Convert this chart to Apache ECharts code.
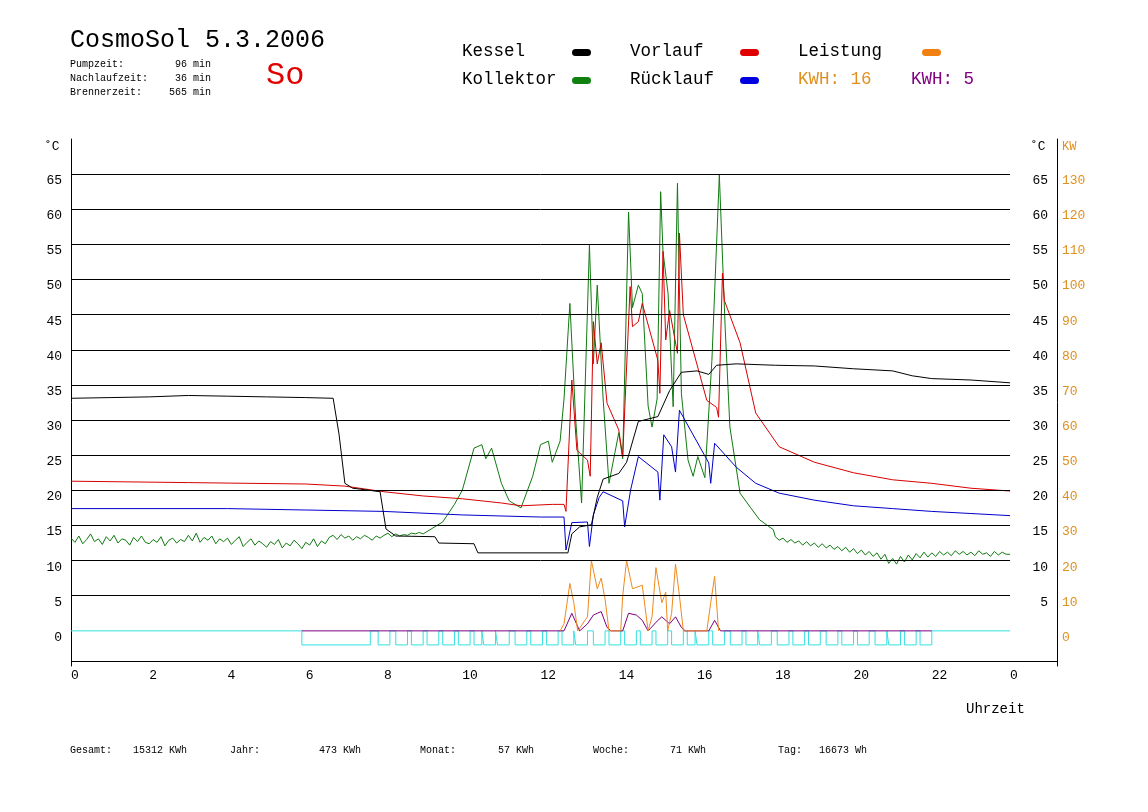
<!DOCTYPE html>
<html>
<head>
<meta charset="utf-8">
<script src="https://cdn.jsdelivr.net/npm/echarts@6/dist/echarts.min.js"></script>
<style>
  html, body { margin: 0; padding: 0; background: #fff; }
  #chart { width: 1148px; height: 812px; }
</style>
</head>
<body>
<div id="chart"></div>
<script>
// Stunden-Achse
const hourTicks = [0, 2, 4, 6, 8, 10, 12, 14, 16, 18, 20, 22, 24];
const gridLevels = [5, 10, 15, 20, 25, 30, 35, 40, 45, 50, 55, 60, 65];

// Kessel [h, °C]
const kessel = [[0,33.1],[1,33.2],[2,33.3],[3,33.5],[4,33.4],[5,33.3],[6,33.2],[6.7,33.1],[6.85,28],[7.0,21],[7.2,20.3],[7.5,20.1],[7.9,19.8],[8.05,14.5],[8.3,13.5],[9.3,13.4],[9.4,12.5],[10.3,12.4],[10.4,11.1],[12.7,11.1],[12.8,13.8],[13.0,14.8],[13.3,15.1],[13.45,19],[13.6,21.6],[14.0,22.4],[14.2,24],[14.5,29.8],[15.0,30.5],[15.3,34.2],[15.6,36.8],[16.0,37],[16.3,36.5],[16.5,37.8],[17,38],[18,37.8],[19,37.7],[20,37.3],[21,37],[21.5,36.3],[22,35.9],[23,35.7],[24,35.3]];

// Vorlauf
const vorlauf = [[0,21.3],[3,21.1],[6,20.9],[7,20.6],[8,19.8],[9,19.2],[10,18.8],[11,18.2],[11.5,17.8],[12.3,18],[12.6,18],[12.65,17],[12.8,35.7],[12.93,25.7],[13.2,24.3],[13.27,22],[13.35,44],[13.45,38],[13.55,41],[13.7,32.4],[14.0,28.6],[14.1,24.8],[14.29,49],[14.35,43.3],[14.5,44],[14.6,46.6],[15.0,38.5],[15.05,33.8],[15.13,54],[15.2,41.4],[15.3,45.6],[15.5,39.5],[15.55,56.6],[15.65,45],[16.25,32.8],[16.5,31.8],[16.55,30.4],[16.65,50.9],[16.7,47],[17.1,41],[17.5,31],[18.1,26.2],[19,24],[20,22.5],[21,21.5],[22,21],[23,20.3],[24,19.9]];

// Rücklauf
const ruecklauf = [[0,17.4],[4,17.4],[6,17.2],[8,17],[10,16.5],[12,16.2],[12.6,16.2],[12.65,11.5],[12.8,15.4],[13.2,15.5],[13.25,12],[13.35,16.5],[13.5,19],[13.6,19.8],[14.1,18.5],[14.15,14.8],[14.3,20],[14.5,24.8],[15.0,22.6],[15.05,18.6],[15.15,27.9],[15.35,26.2],[15.45,22.6],[15.55,31.4],[16.3,23.9],[16.35,21],[16.45,26.7],[17.0,23.3],[17.5,21],[18.1,19.6],[19,18.6],[20,17.8],[21,17.4],[22,17],[23,16.7],[24,16.4]];

// Kollektor: 0.0–8.9 h in 0.1-h-Schritten
const kollektorFrueh = [
  13.2,12.6,13.5,12.4,13.0,13.8,12.7,13.1,12.3,13.4,
  12.8,13.6,12.5,13.1,12.9,12.2,13.3,12.7,13.5,12.6,
  12.4,13.0,12.6,13.4,12.1,12.9,13.2,12.5,13.0,12.7,
  13.6,12.8,13.9,12.6,13.3,12.9,13.5,12.4,13.1,12.7,
  13.2,12.3,12.9,13.4,12.0,12.6,13.1,12.2,12.8,12.4,
  11.9,12.7,12.3,13.0,11.8,12.5,12.1,12.9,12.4,11.7,
  12.6,12.2,13.1,12.0,12.8,12.4,13.3,13.6,13.0,13.7,
  13.2,13.5,12.9,13.4,13.1,13.6,13.3,12.9,13.5,13.2,
  13.6,13.9,13.4,13.8,13.5,13.7,13.6,13.9,13.8,14.0];
// Kollektor Tagesmitte [h, °C]
const kollektorMitte = [[9,13.8],[9.5,15.5],[9.8,18],[10,20],[10.3,26],[10.5,26.5],[10.6,24.5],[10.75,26],[11,21],[11.2,18.5],[11.5,17.5],[11.8,22],[12,26.5],[12.2,27],[12.3,24],[12.5,27],[12.6,33],[12.75,46.6],[12.9,30],[13.05,18.2],[13.25,54.9],[13.35,38],[13.45,49.2],[13.6,33],[13.75,21],[14.0,28.2],[14.1,24.5],[14.25,59.6],[14.35,46],[14.5,49.2],[14.6,48],[14.75,32],[14.85,29],[14.98,33],[15.07,62.5],[15.13,54],[15.26,48],[15.39,31.9],[15.5,63.7],[15.6,33.8],[15.77,24.3],[15.9,22],[16.02,24.8],[16.2,21.8],[16.38,38.5],[16.57,64.9],[16.72,43],[16.84,29],[17.1,19.6],[17.36,17.6],[17.6,15.8],[17.95,14.4]];
// Kollektor 18.0–24.0 h in 0.1-h-Schritten
const kollektorSpaet = [
  13.4,12.9,13.2,12.6,13.0,12.5,12.8,12.2,12.7,12.1,
  12.5,11.9,12.4,11.8,12.2,11.6,12.0,11.4,11.9,11.2,
  11.7,11.0,11.5,10.8,11.3,10.6,11.1,10.2,10.9,9.6,
  10.3,9.5,10.6,9.8,10.8,10.1,11.0,10.4,11.2,10.5,
  11.1,10.6,11.3,10.8,11.2,10.7,11.4,10.9,11.3,10.8,
  11.2,10.7,11.4,10.9,11.1,10.6,11.3,10.8,11.2,10.9,
  10.9];

// Leistung [h, kW]
const leistung = [[12.5,0],[12.6,2],[12.75,13.5],[12.85,8],[12.95,0],[13.2,4],[13.3,20],[13.45,12],[13.55,15],[13.65,9],[13.75,0],[14.05,0],[14.1,10],[14.2,20],[14.35,12],[14.6,13],[14.75,0],[14.85,4],[14.95,18],[15.1,8],[15.2,11],[15.25,0],[15.35,5],[15.45,19],[15.55,10],[15.65,0],[16.25,0],[16.35,8],[16.45,15.5],[16.55,0]];
// zweite Leistung (lila) [h, kW]
const leistung2 = [[5.9,0],[12.6,0],[12.8,5],[13.0,0],[13.2,2],[13.35,4.5],[13.45,5],[13.55,5.5],[13.7,1],[13.8,0],[14.1,0],[14.25,5],[14.45,4.5],[14.6,3],[14.75,0],[15.0,3],[15.1,4],[15.3,2],[15.45,4],[15.6,1],[15.7,0],[16.3,0],[16.45,3],[16.6,0],[22,0]];

// Pumpe: Einschaltbeginn [h] und Dauer [h]
const pumpeStart = [5.9,7.85,8.3,8.7,9.1,9.5,9.9,10.3,10.55,10.9,11.35,11.75,12.15,12.55,12.9,13.35,13.75,14.15,14.55,14.95,15.35,15.75,16.0,16.4,16.85,17.25,17.6,18.05,18.45,18.85,19.3,19.7,20.1,20.55,20.9,21.3,21.7];
const pumpeDauer = [1.75,0.3,0.3,0.3,0.3,0.3,0.3,0.2,0.3,0.3,0.3,0.3,0.3,0.3,0.3,0.3,0.3,0.3,0.3,0.3,0.3,0.2,0.3,0.3,0.3,0.3,0.3,0.3,0.3,0.3,0.3,0.3,0.3,0.3,0.3,0.3,0.3];
const pumpeTief = -2;

const kollektor = kollektorFrueh.map((v, i) => [i / 10, v])
  .concat(kollektorMitte)
  .concat(kollektorSpaet.map((v, i) => [18 + i / 10, v]));

const pumpe = [[0, 0]];
pumpeStart.forEach((s, i) => {
  const e = s + pumpeDauer[i];
  pumpe.push([s, 0], [s, pumpeTief], [e, pumpeTief], [e, 0]);
});
pumpe.push([24, 0]);

const mono = 'Liberation Mono';
const lineSeries = (data, color, yAxisIndex, z) => ({
  type: 'line', data, yAxisIndex: yAxisIndex || 0, showSymbol: false, symbol: 'none',
  lineStyle: { color, width: 1 }, itemStyle: { color }, z: z || 3, silent: true
});
const txt = (t, x, y, size, fill) => ({ type: 'text', left: x, top: y, style: { text: t, font: size + 'px ' + mono, fill: fill || '#000' } });

const chart = echarts.init(document.getElementById('chart'));

const legendItems = [
  ['Kessel', 462, 52, '#000', 572],
  ['Vorlauf', 630, 52, '#e00000', 740],
  ['Leistung', 798, 52, '#f08010', 922],
  ['Kollektor', 462, 80, '#108010', 572],
  ['Rücklauf', 630, 80, '#0000e0', 740]
];
const graphics = [];
legendItems.forEach(([t, x, y, c, mx]) => {
  graphics.push(txt(t, x, y - 10, 17.5));
  graphics.push({ type: 'rect', shape: { x: mx, y: y - 3, width: 19, height: 7, r: 3.5 }, style: { fill: c } });
});
graphics.push(
  txt('KWH: 16', 798, 70, 17.5, '#e0901e'),
  txt('KWH: 5', 911, 70, 17.5, '#800080'),
  txt('CosmoSol 5.3.2006', 70, 28, 25),
  txt('Pumpzeit:', 70, 59, 10), txt('96 min', 175, 59, 10),
  txt('Nachlaufzeit:', 70, 73, 10), txt('36 min', 175, 73, 10),
  txt('Brennerzeit:', 70, 87, 10), txt('565 min', 169, 87, 10),
  txt('So', 266, 60, 32, '#e00000'),
  txt('˚C', 44, 140, 13), txt('˚C', 1030, 140, 13), txt('KW', 1062, 141, 12, '#e0901e'),
  txt('Uhrzeit', 966, 702, 14),
  txt('Gesamt:', 70, 745, 10), txt('15312 KWh', 133, 745, 10),
  txt('Jahr:', 230, 745, 10), txt('473 KWh', 319, 745, 10),
  txt('Monat:', 420, 745, 10), txt('57 KWh', 498, 745, 10),
  txt('Woche:', 593, 745, 10), txt('71 KWh', 670, 745, 10),
  txt('Tag:', 778, 745, 10), txt('16673 Wh', 819, 745, 10)
);

chart.setOption({
  animation: false,
  backgroundColor: '#fff',
  grid: { left: 71, right: 91, top: 139, bottom: 146 },
  xAxis: {
    type: 'value', min: 0, max: 25.2, interval: 2, offset: -5,
    axisLine: { show: false }, axisTick: { show: false }, splitLine: { show: false },
    axisLabel: { color: '#000', fontFamily: mono, fontSize: 13, margin: 8, align: 'left',
      formatter: v => hourTicks.includes(v) ? String(v % 24) : '' }
  },
  yAxis: [
    { type: 'value', min: -5, max: 70, interval: 5, position: 'left',
      axisLine: { show: true, lineStyle: { color: '#000' } }, axisTick: { show: false }, splitLine: { show: false },
      axisLabel: { color: '#000', fontFamily: mono, fontSize: 13, margin: 9, verticalAlign: 'top',
        formatter: v => (v < 0 || v > 65) ? '' : String(v) } },
    { type: 'value', min: -5, max: 70, interval: 5, position: 'right',
      axisLine: { show: true, lineStyle: { color: '#000' } }, axisTick: { show: false }, splitLine: { show: false },
      axisLabel: { inside: true, color: '#000', fontFamily: mono, fontSize: 13, margin: 9, verticalAlign: 'top',
        formatter: v => (v <= 0 || v > 65) ? '' : String(v) } },
    { type: 'value', min: -10, max: 140, interval: 10, position: 'right',
      axisLine: { show: false }, axisTick: { show: false }, splitLine: { show: false },
      axisLabel: { color: '#e0901e', fontFamily: mono, fontSize: 13, margin: 5, verticalAlign: 'top',
        formatter: v => (v < 0 || v > 130) ? '' : String(v) } }
  ],
  graphic: graphics,
  series: [
    { type: 'line', data: [], silent: true, z: 1,
      markLine: { silent: true, symbol: 'none', label: { show: false },
        lineStyle: { color: '#000', width: 1, type: 'solid' },
        data: gridLevels.map(v => [{ coord: [0, v] }, { coord: [24, v] }])
          .concat([[{ coord: [0, -4.3] }, { coord: [25.2, -4.3] }]]) } },
    lineSeries(pumpe, '#33e0e0', 0, 2),
    lineSeries(leistung2, '#800080', 2, 3),
    lineSeries(leistung, '#f08a1e', 2, 4),
    lineSeries(kollektor, '#107a10', 0, 3),
    lineSeries(ruecklauf, '#0000cc', 0, 4),
    lineSeries(vorlauf, '#d80000', 0, 4),
    lineSeries(kessel, '#000', 0, 5)
  ]
});
</script>
</body>
</html>
